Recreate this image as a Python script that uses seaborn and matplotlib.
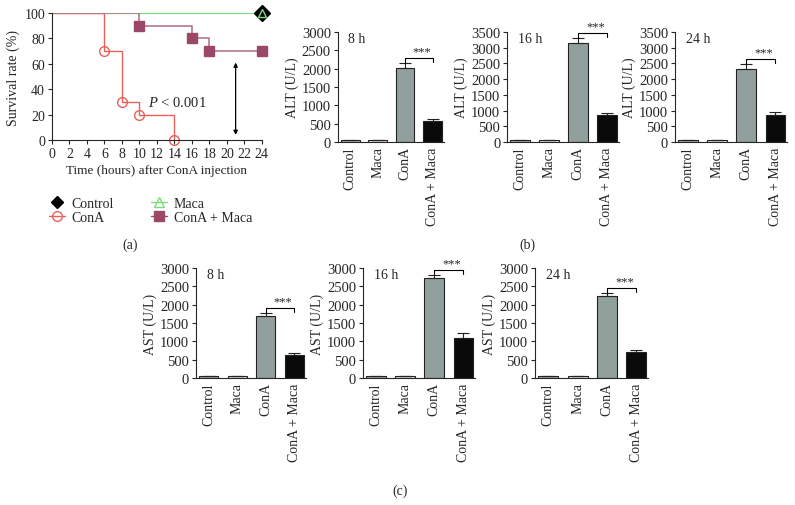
import numpy as np
import pandas as pd
import matplotlib
matplotlib.use("Agg")
import matplotlib.pyplot as plt
from matplotlib.lines import Line2D
import seaborn as sns

# survival data (a)
conA_t = [0, 6, 8, 10, 14]
conA_s = [100, 70, 30, 20, 0]
combo_t = [0, 10, 16, 18, 24]
combo_s = [100, 90, 80, 70, 70]
ctrl_t = [0, 24]
ctrl_s = [100, 100]
maca_t = [0, 24]
maca_s = [100, 100]

# enzyme data (b), (c)
groups = ["Control", "Maca", "ConA", "ConA + Maca"]
alt_8 = [50, 50, 2030, 570]
alt_8_err = [15, 10, 120, 50]
alt_16 = [60, 60, 3150, 850]
alt_16_err = [15, 10, 150, 80]
alt_24 = [60, 60, 2330, 860]
alt_24_err = [15, 10, 150, 80]
ast_8 = [50, 50, 1690, 630]
ast_8_err = [15, 10, 90, 50]
ast_16 = [50, 50, 2720, 1080]
ast_16_err = [15, 10, 80, 160]
ast_24 = [50, 50, 2230, 700]
ast_24_err = [15, 10, 80, 60]

sns.set_style("ticks")
plt.rcParams["font.family"] = ["Liberation Serif", "DejaVu Serif"]
plt.rcParams["mathtext.fontset"] = "custom"
plt.rcParams["mathtext.it"] = "Liberation Serif:italic"
plt.rcParams["mathtext.rm"] = "Liberation Serif"

FS = 10
red = "#e8605a"
mauve = "#9b4868"
mauve_line = "#b07a8c"
green = "#7ddc7d"

fig = plt.figure(figsize=(7.95, 5.06), dpi=100)

# ---- survival panel
ax = fig.add_axes([0.0654, 0.7213, 0.264, 0.251])
sns.lineplot(x=ctrl_t, y=ctrl_s, ax=ax, color="black", lw=0.6, drawstyle="steps-post")
sns.lineplot(x=maca_t, y=maca_s, ax=ax, color=green, lw=1.6, drawstyle="steps-post")
sns.lineplot(x=conA_t, y=conA_s, ax=ax, color=red, lw=1, drawstyle="steps-post")
sns.lineplot(x=combo_t, y=combo_s, ax=ax, color=mauve_line, lw=1.2, drawstyle="steps-post")
ax.plot(conA_t[1:], conA_s[1:], ls="none", marker="o", ms=7, mfc="none", mec=red, mew=1, clip_on=False)
ax.plot(combo_t[1:], combo_s[1:], ls="none", marker="s", ms=7, color=mauve, clip_on=False)
ax.plot(ctrl_t[-1:], ctrl_s[-1:], ls="none", marker="D", ms=8, color="black", clip_on=False)
ax.plot(maca_t[-1:], maca_s[-1:], ls="none", marker="^", ms=6, mfc="none", mec=green, mew=1, clip_on=False)
ax.annotate("", xy=(21, 4), xytext=(21, 61),
            arrowprops=dict(arrowstyle="<|-|>", color="black", lw=0.9, mutation_scale=6,
                            shrinkA=0, shrinkB=0))
ax.text(17.7, 30, r"$P$ < 0.001", ha="right", va="center", fontsize=10.5)
ax.set_xlim(0, 24)
ax.set_ylim(0, 100)
ax.set_xticks(range(0, 25, 2))
ax.set_yticks(range(0, 101, 20))
ax.tick_params(labelsize=FS, length=3, width=0.8, pad=2)
ax.set_xlabel("Time (hours) after ConA injection", fontsize=9.5, labelpad=3)
ax.set_ylabel("Survival rate (%)", fontsize=10, labelpad=3)
sns.despine(ax=ax)

handles = [
    Line2D([], [], ls="none", marker="D", ms=6, color="black"),
    Line2D([], [], color=red, lw=1, marker="o", ms=7, mfc="none", mec=red),
    Line2D([], [], color=green, lw=1, marker="^", ms=7, mfc="none", mec=green),
    Line2D([], [], color=mauve, lw=1, marker="s", ms=7),
]
fig.legend(handles, ["Control", "ConA", "Maca", "ConA + Maca"], ncol=2,
           loc="upper left", bbox_to_anchor=(0.055, 0.62), frameon=False,
           fontsize=FS, handlelength=1.1, handletextpad=0.5,
           columnspacing=2.7, labelspacing=0.1, borderaxespad=0)

# ---- bar panels
bar_colors = ["#a9b1b1", "#e6e6e6", "#8fa19e", "#0a0a0a"]


def bar_panel(rect, vals, errs, ymax, ystep, ylabel, title):
    a = fig.add_axes(rect)
    df = pd.DataFrame({"group": groups, "value": vals})
    sns.barplot(data=df, x="group", y="value", hue="group", palette=bar_colors,
                legend=False, errorbar=None, width=0.68, edgecolor="#222222",
                linewidth=0.8, ax=a)
    xs = np.arange(len(vals))
    a.errorbar(xs, vals, yerr=[np.zeros(len(errs)), errs], fmt="none",
               ecolor="#222222", elinewidth=0.8, capsize=4, capthick=0.8)
    # significance bracket ConA vs ConA + Maca
    top = vals[2] + errs[2]
    level = top + ymax * 0.045
    a.plot([2, 2, 3, 3], [top, level, level, level - ymax * 0.035],
           color="black", lw=0.8)
    a.text(2.6, level + ymax * 0.005, "***", ha="center", va="bottom",
           fontsize=FS - 1)
    a.set_xlim(-0.45, 3.4)
    a.set_ylim(0, ymax)
    a.set_yticks(np.arange(0, ymax + 1, ystep))
    a.set_xlabel("")
    a.set_ylabel(ylabel, fontsize=10, labelpad=2)
    a.tick_params(axis="y", labelsize=10.5, length=3, width=0.8, pad=2)
    a.tick_params(axis="x", labelsize=FS, length=0, rotation=90, pad=3)
    a.text(0.1, 1.0, title, transform=a.transAxes, ha="left", va="top",
           fontsize=10)
    sns.despine(ax=a)
    return a


bar_panel([0.425, 0.7174, 0.133, 0.2174], alt_8, alt_8_err, 3000, 500, "ALT (U/L)", "8 h")
bar_panel([0.638, 0.7174, 0.140, 0.2174], alt_16, alt_16_err, 3500, 500, "ALT (U/L)", "16 h")
bar_panel([0.849, 0.7174, 0.141, 0.2174], alt_24, alt_24_err, 3500, 500, "ALT (U/L)", "24 h")
bar_panel([0.2465, 0.251, 0.138, 0.2174], ast_8, ast_8_err, 3000, 500, "AST (U/L)", "8 h")
bar_panel([0.4566, 0.251, 0.141, 0.2174], ast_16, ast_16_err, 3000, 500, "AST (U/L)", "16 h")
bar_panel([0.673, 0.251, 0.142, 0.2174], ast_24, ast_24_err, 3000, 500, "AST (U/L)", "24 h")

fig.text(0.1635, 0.516, "(a)", ha="center", va="center", fontsize=FS)
fig.text(0.664, 0.516, "(b)", ha="center", va="center", fontsize=FS)
fig.text(0.503, 0.030, "(c)", ha="center", va="center", fontsize=FS)

fig.savefig("out.png", dpi=100)
